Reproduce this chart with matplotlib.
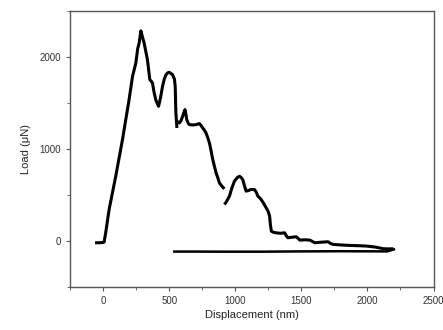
import matplotlib
matplotlib.use("Agg")
import matplotlib.pyplot as plt
from matplotlib.ticker import MultipleLocator

plt.rcParams['font.family'] = ['Liberation Sans', 'DejaVu Sans']

# Loading segment 1 (before first gap)
load1_x = [-61, -30, 0, 8, 20, 46, 96, 147, 197, 223, 248, 262, 273, 286, 298, 311, 325, 336,
           345, 354, 364, 374, 387, 400, 420, 435, 450, 463, 476, 490, 501, 515, 526, 540, 546,
           551, 559]
load1_y = [-18, -18, -15, -10, 90, 344, 705, 1103, 1537, 1790, 1935, 2090, 2152, 2285, 2220,
           2152, 2050, 1971, 1860, 1754, 1740, 1718, 1610, 1530, 1465, 1560, 1682, 1760, 1808,
           1830, 1834, 1820, 1808, 1760, 1682, 1393, 1230]
# Loading segment 2
load2_x = [562, 577, 590, 602, 612, 620, 627, 633, 645, 653, 680, 703, 729, 742, 754, 767, 779,
           792, 805, 818, 830, 843, 855, 868, 880, 900, 918]
load2_y = [1300, 1284, 1310, 1356, 1400, 1429, 1380, 1320, 1280, 1266, 1262, 1266, 1277, 1255,
           1230, 1205, 1175, 1125, 1067, 975, 886, 810, 742, 690, 633, 595, 568]
# Loading segment 3
load3_x = [918, 930, 956, 975, 994, 1015, 1032, 1045, 1057, 1070, 1082, 1100, 1119, 1145, 1160,
           1171, 1185, 1196, 1215, 1234, 1250, 1260, 1266, 1273, 1290, 1310, 1340, 1374, 1385,
           1399, 1430, 1462, 1475, 1488, 1530, 1564, 1585, 1602, 1650, 1703, 1720, 1741, 1800,
           1867, 1930, 1994, 2060, 2120, 2160, 2196]
load3_y = [398, 420, 488, 580, 651, 690, 705, 690, 669, 600, 543, 550, 561, 561, 530, 488,
           470, 452, 410, 362, 320, 271, 180, 108, 95, 90, 85, 90, 60, 36, 42, 47, 30, 11, 14,
           11, -5, -18, -12, -7, -25, -36, -42, -47, -50, -54, -65, -83, -85, -83]
# Unloading / return line
unload_x = [2200, 2150, 1800, 1500, 1200, 900, 700, 539]
unload_y = [-90, -112, -110, -112, -115, -115, -114, -114]

fig = plt.figure(figsize=(4.43, 3.30), dpi=100)
ax = fig.add_axes([0.158, 0.130, 0.8206, 0.8364])

for xs, ys in [(load1_x, load1_y), (load2_x, load2_y), (load3_x, load3_y)]:
    ax.plot(xs, ys, color='black', lw=2.2, solid_joinstyle='round', solid_capstyle='butt')
ax.plot(unload_x, unload_y, color='black', lw=1.8)

ax.set_xlim(-250, 2500)
ax.set_ylim(-500, 2500)
ax.xaxis.set_major_locator(MultipleLocator(500))
ax.xaxis.set_minor_locator(MultipleLocator(250))
ax.yaxis.set_major_locator(MultipleLocator(1000))
ax.yaxis.set_minor_locator(MultipleLocator(500))
ax.set_yticks([0, 1000, 2000])

for s in ax.spines.values():
    s.set_color('#555555')
    s.set_linewidth(1.0)
ax.tick_params(which='both', direction='out', colors='#555555', labelcolor='#333333',
               labelsize=7, top=False, right=False)
ax.tick_params(which='major', length=3)
ax.tick_params(which='minor', length=2)

ax.set_xlabel('Displacement (nm)', fontsize=8, color='#222222', labelpad=3)
ax.set_ylabel('Load (μN)', fontsize=8, color='#222222', labelpad=6)

fig.savefig('out.png', dpi=100)
